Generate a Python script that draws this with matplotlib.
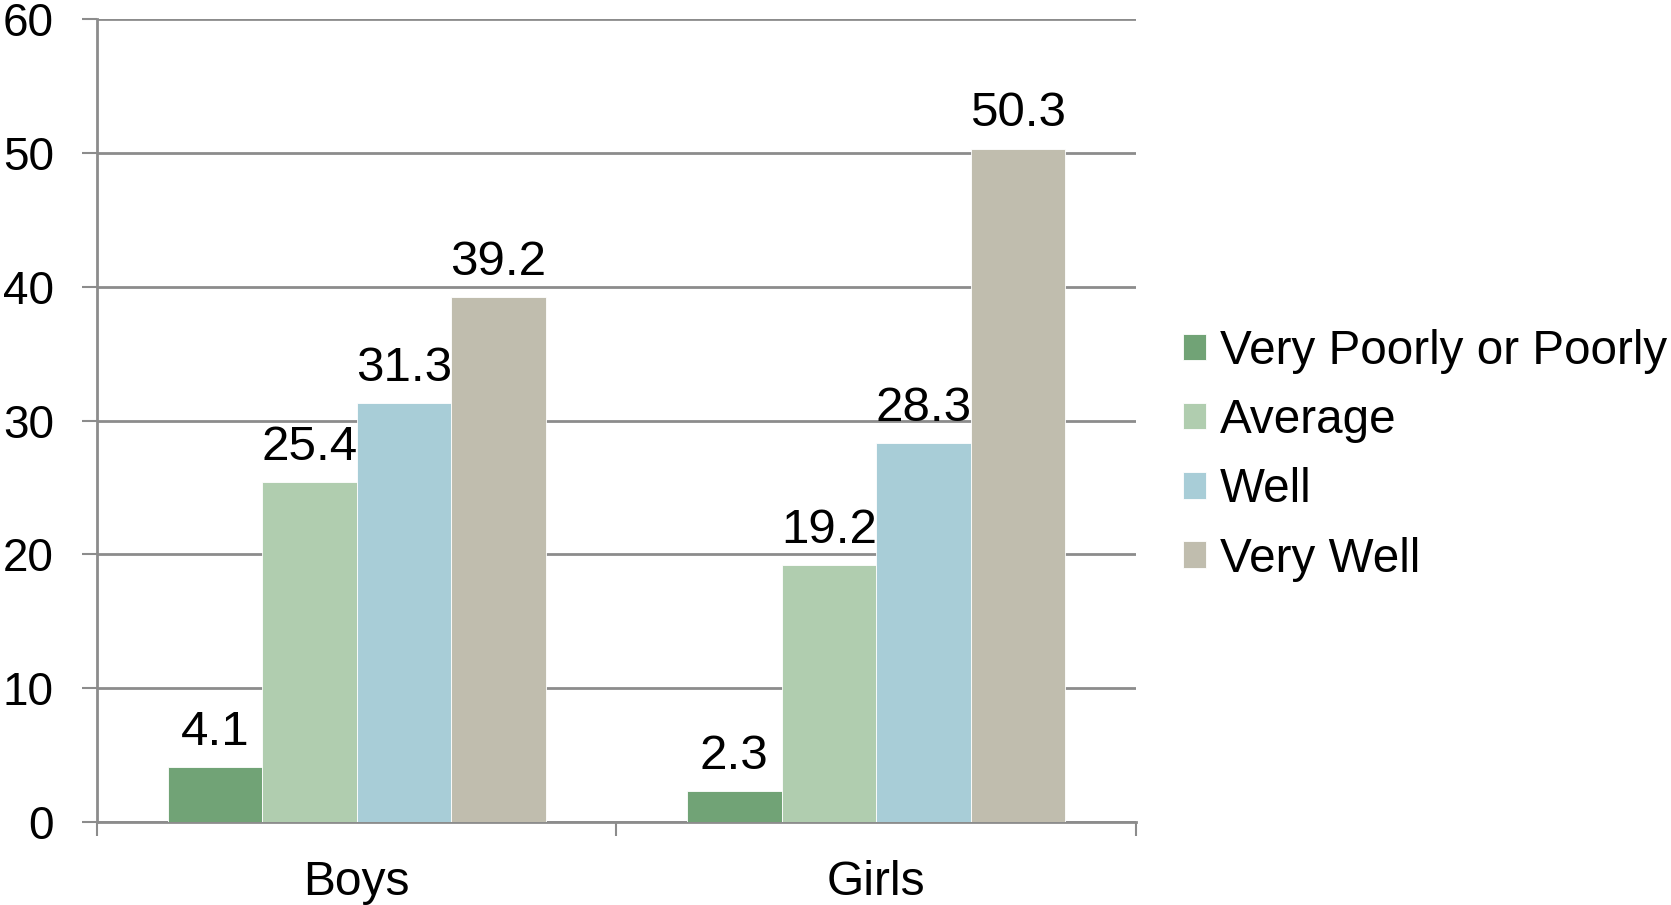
import matplotlib.pyplot as plt
import numpy as np

plt.rcParams['font.family'] = ['Liberation Sans', 'DejaVu Sans']

groups = ['Boys', 'Girls']
ratings = ['Very Poorly or Poorly', 'Average', 'Well', 'Very Well']
values = {
    'Very Poorly or Poorly': [4.1, 2.3],
    'Average': [25.4, 19.2],
    'Well': [31.3, 28.3],
    'Very Well': [39.2, 50.3],
}
bar_colors = ['#71a376', '#b0cdaf', '#a8cdd7', '#c0bdae']

fig = plt.figure(figsize=(16.71, 9.05), dpi=100)
ax = fig.add_axes([0.058, 0.0917, 0.6218, 0.8873])

x = np.arange(len(groups))
w = 0.182
for i, (name, col) in enumerate(zip(ratings, bar_colors)):
    pos = x + (i - 1.5) * w
    bars = ax.bar(pos, values[name], w, color=col, label=name,
                  edgecolor='white', linewidth=0.6, zorder=3)
    for b, v in zip(bars, values[name]):
        ax.annotate(f'{v}', (b.get_x() + b.get_width() / 2, v),
                    xytext=(0, 9), textcoords='offset points',
                    ha='center', va='bottom', fontsize=35.5)

ax.set_xlim(-0.5, 1.5)
ax.set_ylim(0, 60)
ax.set_yticks(np.arange(0, 61, 10))
ax.yaxis.grid(True, color='#8c8c8c', linewidth=2, zorder=0)
ax.set_axisbelow(True)

# category labels in the middle, tick marks on the boundaries
ax.set_xticks(x)
ax.set_xticklabels(groups)
ax.set_xticks([-0.5, 0.5, 1.5], minor=True)
ax.tick_params(axis='x', which='major', length=0, pad=27, labelsize=34.5)
ax.tick_params(axis='x', which='minor', length=10, width=1.5, color='#8c8c8c')
ax.tick_params(axis='y', length=11, width=1.5, color='#8c8c8c', pad=20, labelsize=33)

for s in ['top', 'right']:
    ax.spines[s].set_visible(False)
for s in ['left', 'bottom']:
    ax.spines[s].set_color('#8c8c8c')
    ax.spines[s].set_linewidth(2)

fig.legend(loc='center left', bbox_to_anchor=(0.708, 0.497), frameon=False,
           fontsize=34.3, handlelength=0.48, handleheight=0.48,
           handletextpad=0.3, labelspacing=0.51, borderpad=0, borderaxespad=0)

fig.savefig('out.png', dpi=100)
plt.close(fig)
